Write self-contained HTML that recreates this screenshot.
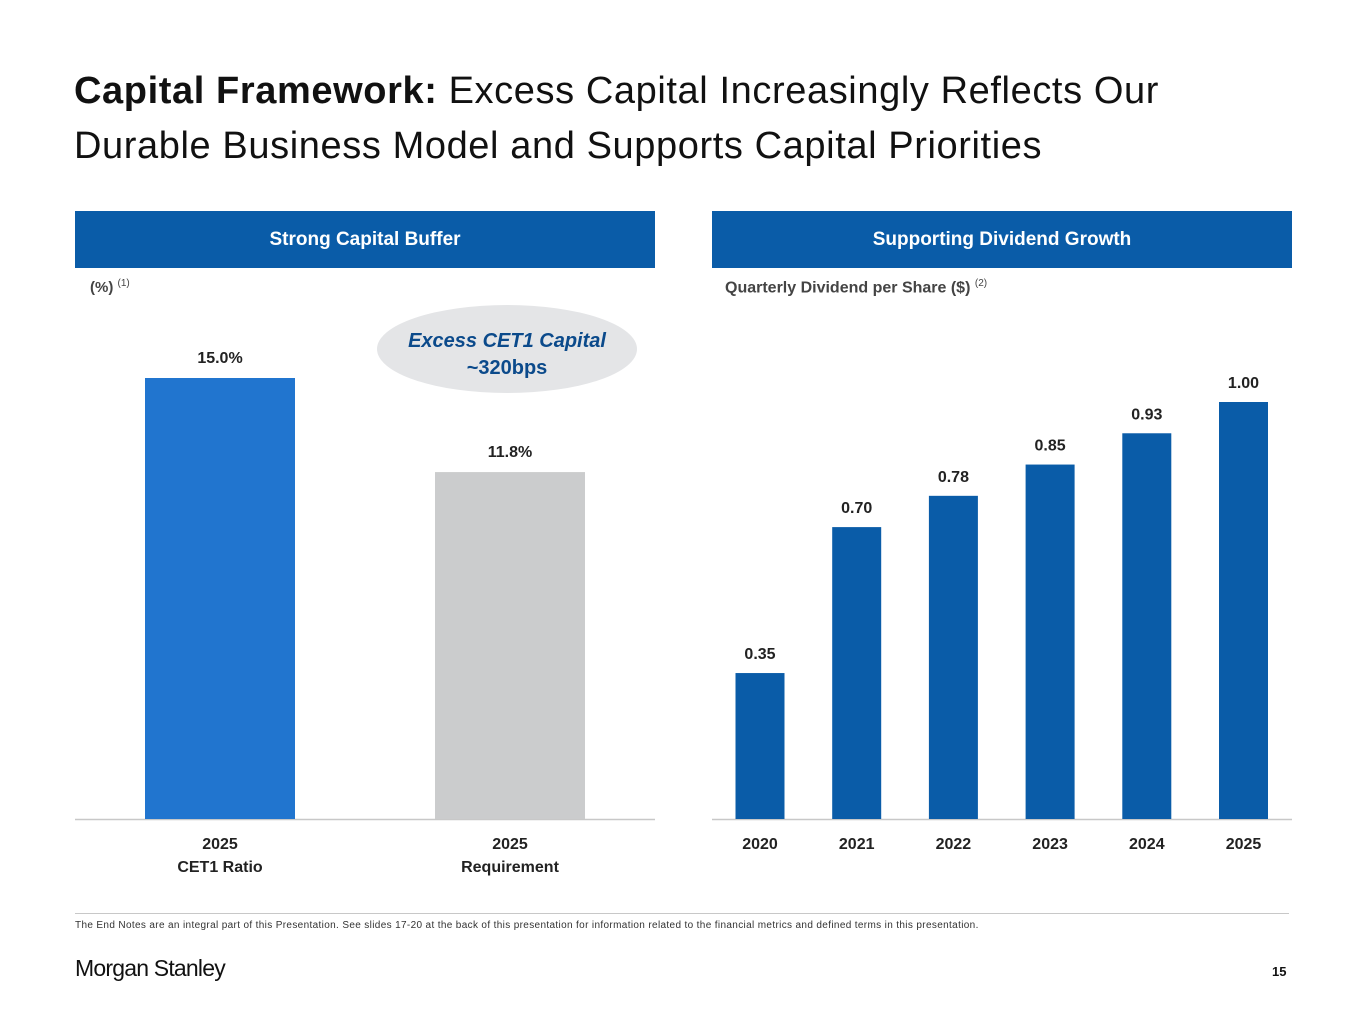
<!DOCTYPE html>
<html><head><meta charset="utf-8"><style>
body{margin:0;width:1365px;height:1024px;background:#fff;font-family:"Liberation Sans",sans-serif;position:relative;overflow:hidden}
.abs{position:absolute}
h1{position:absolute;left:74px;top:64px;margin:0;font-size:38px;font-weight:normal;line-height:55px;color:#111;letter-spacing:0.6px;white-space:nowrap}
.hdr{position:absolute;top:211px;height:57px;background:#0a5ca8;color:#fff;font-weight:bold;font-size:19px;text-align:center;line-height:57px}
</style></head><body>
<h1><b>Capital Framework:</b> Excess Capital Increasingly Reflects Our<br>Durable Business Model and Supports Capital Priorities</h1>
<div class="hdr" style="left:75px;width:580px">Strong Capital Buffer</div>
<div class="hdr" style="left:712px;width:580px">Supporting Dividend Growth</div>
<div class="abs" style="left:90px;top:278px;font-size:15px;font-weight:bold;color:#444">(%) <sup style="font-size:10px;font-weight:normal">(1)</sup></div>
<div class="abs" style="left:725px;top:278px;font-size:16px;font-weight:bold;color:#444">Quarterly Dividend per Share ($) <sup style="font-size:10px;font-weight:normal">(2)</sup></div>
<svg id="chart" class="abs" style="left:0;top:0" width="1365" height="1024">
<ellipse cx="507" cy="349" rx="130" ry="44" fill="#e4e5e7"/>
<text x="507" y="347" text-anchor="middle" font-size="20" font-weight="bold" font-style="italic" fill="#0b4a8b">Excess CET1 Capital</text>
<text x="507" y="374" text-anchor="middle" font-size="20" font-weight="bold" fill="#0b4a8b">~320bps</text>
<line x1="75" y1="819.5" x2="655" y2="819.5" stroke="#c8c8c8" stroke-width="1.5"/>
<line x1="712" y1="819.5" x2="1292" y2="819.5" stroke="#c8c8c8" stroke-width="1.5"/>
</svg>
<div class="abs" style="left:75px;top:913px;width:1214px;border-top:1.5px solid #c8c8c8"></div>
<div class="abs" style="left:75px;top:920px;font-size:10px;color:#333;letter-spacing:0.35px;white-space:nowrap">The End Notes are an integral part of this Presentation. See slides 17-20 at the back of this presentation for information related to the financial metrics and defined terms in this presentation.</div>
<div class="abs" style="left:75px;top:955px;font-size:23px;color:#111;letter-spacing:-0.8px">Morgan Stanley</div>
<div class="abs" style="left:1272px;top:964px;font-size:13px;font-weight:bold;color:#111">15</div>
<script>
const leftCats=[["2025","CET1 Ratio"],["2025","Requirement"]];
const leftVals=[15.0,11.8];
const leftLabels=["15.0%","11.8%"];
const leftColors=["#2175cf","#cbcccd"];
const rightCats=["2020","2021","2022","2023","2024","2025"];
const rightVals=[0.35,0.70,0.775,0.85,0.925,1.00];
const rightLabels=["0.35","0.70","0.78","0.85","0.93","1.00"];
const svg=document.getElementById('chart');
const NS='http://www.w3.org/2000/svg';
const base=819;
function mk(tag,attrs){const e=document.createElementNS(NS,tag);for(const k in attrs)e.setAttribute(k,attrs[k]);svg.appendChild(e);return e;}
function yL(v){return base-v*29.4;}
function xL(i){return 220+i*290;}
function yR(v){return base-v*417;}
function xR(i){return 760+i*96.7;}
leftVals.forEach((v,i)=>{
 const r=mk('rect',{x:xL(i)-75,y:yL(v),width:150,height:base-yL(v),fill:leftColors[i]});
 
 
 const t=mk('text',{x:xL(i),y:yL(v)-15,'text-anchor':'middle','font-size':16,'font-weight':'bold',fill:'#222'});t.textContent=leftLabels[i];
 
 
 leftCats[i].forEach((s,j)=>{const c=mk('text',{x:xL(i),y:849+j*23,'text-anchor':'middle','font-size':16,'font-weight':'bold',fill:'#222'});c.textContent=s;
 
 });
});
rightVals.forEach((v,i)=>{
 const r=mk('rect',{x:xR(i)-24.5,y:yR(v),width:49,height:base-yR(v),fill:'#0a5ca8'});
 
 
 const t=mk('text',{x:xR(i),y:yR(v)-14,'text-anchor':'middle','font-size':16,'font-weight':'bold',fill:'#222'});t.textContent=rightLabels[i];
 
 
 const c=mk('text',{x:xR(i),y:849,'text-anchor':'middle','font-size':16,'font-weight':'bold',fill:'#222'});c.textContent=rightCats[i];
 
 
});
</script>
</body></html>
